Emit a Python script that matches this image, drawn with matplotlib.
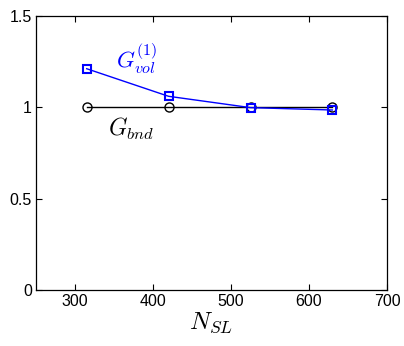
import matplotlib

matplotlib.use("Agg")
import matplotlib.pyplot as plt

# values
n_sl = [315, 420, 525, 630]
g_vol = [1.211, 1.060, 0.998, 0.985]
g_bnd = [1.0, 1.0, 1.0, 1.0]

x_ticks = [300, 400, 500, 600, 700]
y_ticks = [0, 0.5, 1, 1.5]
y_tick_labels = ["0", "0.5", "1", "1.5"]

plt.rcParams["font.family"] = ["Liberation Sans", "DejaVu Sans"]
plt.rcParams["mathtext.fontset"] = "cm"

fig = plt.figure(figsize=(4.04, 3.46), dpi=100)
ax = fig.add_axes([0.089, 0.162, 0.869, 0.792])

ax.plot(n_sl, g_bnd, color="black", linewidth=1.0, marker="o", markersize=6.5,
        markerfacecolor="none", markeredgewidth=1.0)
ax.plot(n_sl, g_vol, color="#0000ff", linewidth=1.0, marker="s", markersize=5.5,
        markerfacecolor="none", markeredgewidth=1.5)

ax.text(352, 1.265, r"$G_{vol}^{(1)}$", color="#0000ff", fontsize=16.5, ha="left", va="center")
ax.text(342, 0.88, r"$G_{bnd}$", color="black", fontsize=17, ha="left", va="center")

ax.set_xlim(250, 700)
ax.set_ylim(0, 1.5)
ax.set_xticks(x_ticks)
ax.set_yticks(y_ticks)
ax.set_yticklabels(y_tick_labels)
ax.tick_params(direction="in", top=True, right=True, length=4, width=0.8,
               labelsize=11.5, pad=3)
ax.set_xlabel(r"$N_{SL}$", fontsize=18, labelpad=1)
for spine in ax.spines.values():
    spine.set_linewidth(0.9)

fig.savefig("out.png", dpi=100)
